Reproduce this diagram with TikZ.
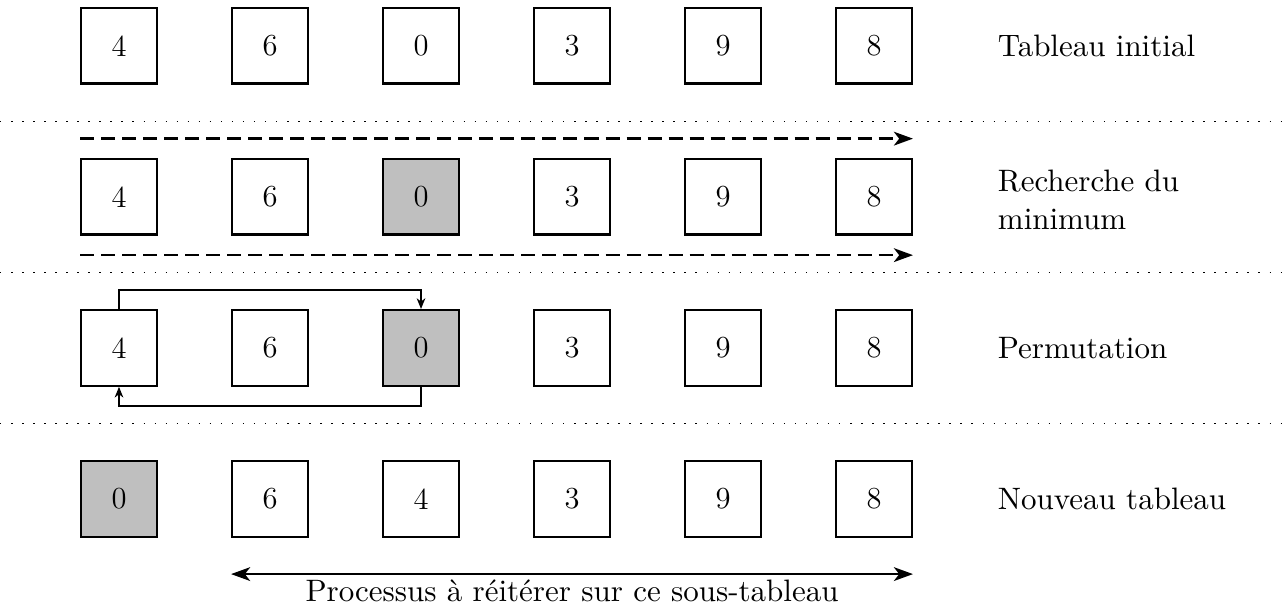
\documentclass[tikz,border=0pt]{standalone}
\usepackage{tikz}
\usepackage{amsmath}
\usepackage{amssymb}
\usepackage{xcolor}
\usetikzlibrary{arrows.meta}

\begin{document}
\begin{tikzpicture}[
        case/.style={draw,line width=1.1pt,minimum size=1.25cm,inner sep=0pt,font=\Large},
        casemin/.style={case,fill=lightgray},
        titre/.style={anchor=west,align=left,scale=1.46},
        separe/.style={line width=0.7pt,dash pattern=on 0.7pt off 4.5pt},
        parcours/.style={line width=1.1pt,dash pattern=on 6.6pt off 3.3pt,-{Stealth[length=9pt,width=6.5pt,inset=2.5pt]}},
        echange/.style={line width=0.9pt,-{Stealth[length=5pt,width=4pt,inset=1.5pt]}}]
                \useasboundingbox (-1.97,-9.32) rectangle (19.32,0.76);

                % tableau initial
                \node (a1) at (0,0) [case] {4};
                \node (a2) at (2.5,0) [case] {6};
                \node (a3) at (5,0) [case] {0};
                \node (a4) at (7.5,0) [case] {3};
                \node (a5) at (10,0) [case] {9};
                \node (a6) at (12.5,0) [case] {8};
                \node (ta) at (14.37,0) [titre] {Tableau initial};

                % recherche du minimum
                \node (b1) at (0,-2.5) [case] {4};
                \node (b2) at (2.5,-2.5) [case] {6};
                \node (b3) at (5,-2.5) [casemin] {0};
                \node (b4) at (7.5,-2.5) [case] {3};
                \node (b5) at (10,-2.5) [case] {9};
                \node (b6) at (12.5,-2.5) [case] {8};
                \node (tb) at (14.37,-2.55) [titre] {Recherche du\\minimum};

                % permutation
                \node (c1) at (0,-5) [case] {4};
                \node (c2) at (2.5,-5) [case] {6};
                \node (c3) at (5,-5) [casemin] {0};
                \node (c4) at (7.5,-5) [case] {3};
                \node (c5) at (10,-5) [case] {9};
                \node (c6) at (12.5,-5) [case] {8};
                \node (tc) at (14.37,-5) [titre] {Permutation};

                % nouveau tableau
                \node (d1) at (0,-7.5) [casemin] {0};
                \node (d2) at (2.5,-7.5) [case] {6};
                \node (d3) at (5,-7.5) [case] {4};
                \node (d4) at (7.5,-7.5) [case] {3};
                \node (d5) at (10,-7.5) [case] {9};
                \node (d6) at (12.5,-7.5) [case] {8};
                \node (td) at (14.37,-7.5) [titre] {Nouveau tableau};

                \draw[separe] (-1.97,-1.25) -- (19.32,-1.25);
                \draw[separe] (-1.97,-3.75) -- (19.32,-3.75);
                \draw[separe] (-1.97,-6.25) -- (19.32,-6.25);

                \draw[parcours] ([yshift=0.32cm]b1.north west) -- ([yshift=0.32cm]b6.north east);
                \draw[parcours] ([yshift=-0.32cm]b1.south west) -- ([yshift=-0.32cm]b6.south east);

                \draw[echange] (c1.north) -- ++(0,0.31) -| (c3.north);
                \draw[echange] (c3.south) -- ++(0,-0.31) -| (c1.south);

                \draw[line width=0.9pt,{Stealth[length=9pt,width=6.5pt,inset=2.5pt]}-{Stealth[length=9pt,width=6.5pt,inset=2.5pt]}]
                    ([yshift=-0.6cm]d2.south west) -- ([yshift=-0.6cm]d6.south east)
                    node[midway,below,inner sep=1.5pt,scale=1.46] {Processus à réitérer sur ce sous-tableau};
    
            \end{tikzpicture}
\end{document}
